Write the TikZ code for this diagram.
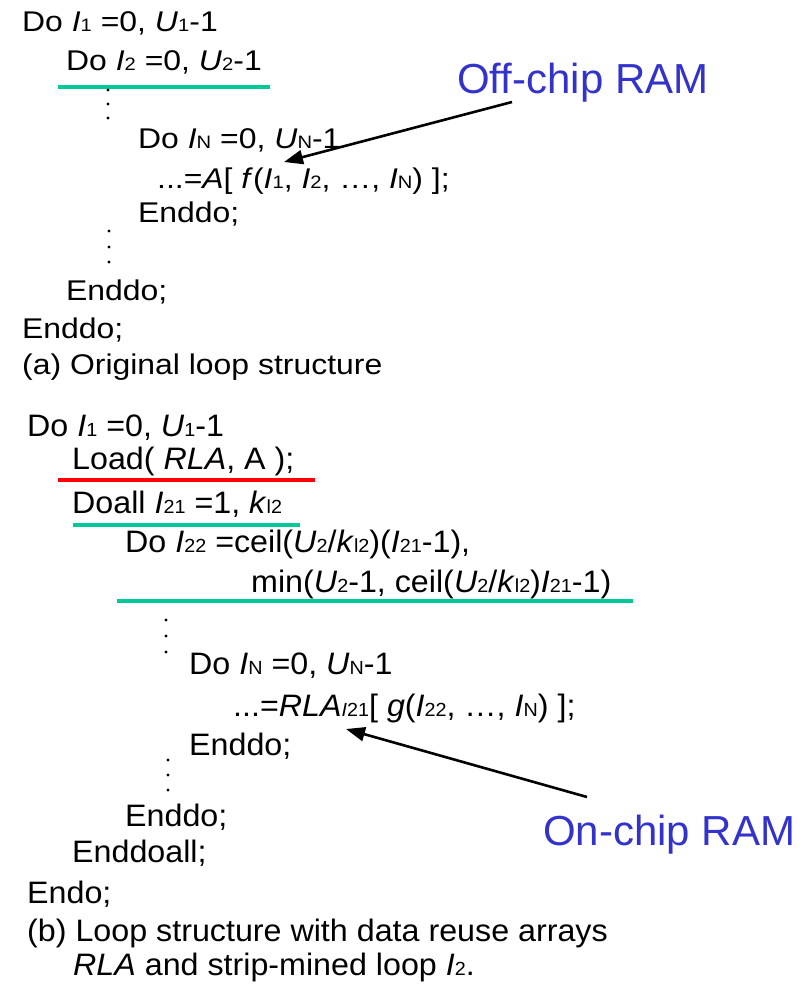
\documentclass[tikz,border=0pt]{standalone}
\usepackage{fontspec}
\setmainfont{Liberation Sans}
\newfontfamily\fa{Liberation Sans}[FakeStretch=1.12]
\newfontfamily\fb{Liberation Sans}[FakeStretch=1.04]
\usetikzlibrary{arrows.meta}

% small index text set on the baseline, sized per block
\newcommand\losz{17}
\newcommand\lo[1]{{\fontsize{\losz}{\losz}\selectfont #1}}

\definecolor{rulegreen}{RGB}{0,200,150}
\definecolor{rulered}{RGB}{255,0,0}
\definecolor{ramblue}{RGB}{51,51,204}

\tikzset{
  codea/.style={anchor=base west, inner sep=0pt,
    font=\fa\fontsize{28.5}{28.5}\selectfont\def\losz{18}},
  codeb/.style={anchor=base west, inner sep=0pt,
    font=\fb\fontsize{31}{31}\selectfont\def\losz{19}},
  memnote/.style={anchor=base west, inner sep=0pt, text=ramblue,
    font=\fontsize{42}{42}\selectfont},
  greenrule/.style={draw=rulegreen, line width=4pt},
  redrule/.style={draw=rulered, line width=4pt},
  vdot/.style={fill=black, circle, inner sep=0pt, minimum size=3.4pt},
  pointer/.style={draw=black, line width=2.6pt,
    -{Triangle[length=19pt,width=14pt]}}
}

\begin{document}
\begin{tikzpicture}[x=1pt,y=-1pt]
\useasboundingbox (0,0) rectangle (811,986);

% ---------- (a) original loop nest ----------
\node[codea] (a1) at (22,31)  {Do \textit{I}\lo{1} =0, \textit{U}\lo{1}-1};
\node[codea] (a2) at (66,70)  {Do \textit{I}\lo{2} =0, \textit{U}\lo{2}-1};
\draw[greenrule] (58,87) -- (270,87);
\node[vdot] (ad1) at (108,90) {};
\node[vdot] (ad2) at (108,104) {};
\node[vdot] (ad3) at (108,118) {};
\node[codea] (a3) at (138,148) {Do \textit{I}\lo{N} =0, \textit{U}\lo{N}-1};
\node[codea] (a4) at (157,188) {...=\textit{A}[ \textit{f}(\textit{I}\lo{1}, \textit{I}\lo{2}, …, \textit{I}\lo{N}) ];};
\node[codea] (a5) at (138,222) {Enddo;};
\node[vdot] (ad4) at (109,231) {};
\node[vdot] (ad5) at (109,247) {};
\node[vdot] (ad6) at (109,262) {};
\node[codea] (a6) at (66,300)  {Enddo;};
\node[codea] (a7) at (22,338)  {Enddo;};
\node[codea] (a8) at (22,374)  {(a) Original loop structure};

\node[memnote] (off) at (457,93) {Off-chip RAM};
\coordinate (offtail) at (512,102);
\coordinate (offtip) at (284,162);
\draw[pointer] (offtail) -- (offtip);

% ---------- (b) strip-mined loop nest with reuse array ----------
\node[codeb] (b1) at (27,436)  {Do \textit{I}\lo{1} =0, \textit{U}\lo{1}-1};
\node[codeb] (b2) at (72,469)  {Load( \textit{RLA}, A );};
\draw[redrule] (58,480) -- (315,480);
\node[codeb] (b3) at (72,513)  {Doall \textit{I}\lo{21} =1, \textit{k}\lo{l2}};
\draw[greenrule] (73,525) -- (300,525);
\node[codeb] (b4) at (125,552) {Do \textit{I}\lo{22} =ceil(\textit{U}\lo{2}/\textit{k}\lo{l2})(\textit{I}\lo{21}-1),};
\node[codeb] (b5) at (251,592) {min(\textit{U}\lo{2}-1, ceil(\textit{U}\lo{2}/\textit{k}\lo{l2})\textit{I}\lo{21}-1)};
\draw[greenrule] (117,601) -- (633,601);
\node[vdot] (bd1) at (166,620) {};
\node[vdot] (bd2) at (166,636) {};
\node[vdot] (bd3) at (166,652) {};
\node[codeb] (b6) at (189,674) {Do \textit{I}\lo{N} =0, \textit{U}\lo{N}-1};
\node[codeb] (b7) at (233,716) {...=\textit{RLA}\lo{\textit{I}21}[ \textit{g}(\textit{I}\lo{22}, …, \textit{I}\lo{N}) ];};
\node[codeb] (b8) at (189,755) {Enddo;};
\node[vdot] (bd4) at (168,760) {};
\node[vdot] (bd5) at (168,775) {};
\node[vdot] (bd6) at (168,790) {};
\node[codeb] (b9) at (125,826)  {Enddo;};
\node[codeb] (b10) at (72,862)  {Enddoall;};
\node[codeb] (b11) at (27,903)  {Endo;};
\node[codeb] (b12) at (27,941)  {(b) Loop structure with data reuse arrays};
\node[codeb] (b13) at (73,975)  {\textit{RLA} and strip-mined loop \textit{I}\lo{2}.};

\node[memnote] (on) at (543,845) {On-chip RAM};
\coordinate (ontail) at (587,797);
\coordinate (ontip) at (346,729);
\draw[pointer] (ontail) -- (ontip);
\end{tikzpicture}
\end{document}
